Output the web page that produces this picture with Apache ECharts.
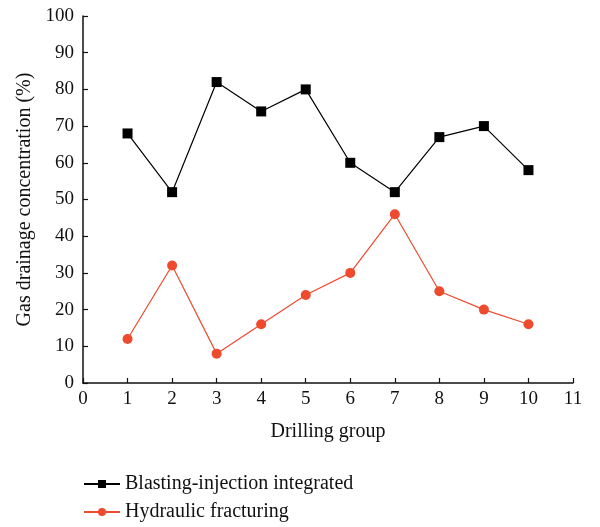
<!DOCTYPE html>
<html>
<head>
<meta charset="utf-8">
<script src="https://cdn.jsdelivr.net/npm/echarts@6/dist/echarts.min.js"></script>
<style>
  html, body { margin: 0; padding: 0; background: #fff; }
  #chart { width: 600px; height: 527px; }
</style>
</head>
<body>
<div id="chart"></div>
<script>
// Drilling groups and gas drainage concentration (%) for each method
const groups = [1, 2, 3, 4, 5, 6, 7, 8, 9, 10];
const blastingInjection = [68, 52, 82, 74, 80, 60, 52, 67, 70, 58];
const hydraulicFracturing = [12, 32, 8, 16, 24, 30, 46, 25, 20, 16];
const seriesNames = ['Blasting-injection integrated', 'Hydraulic fracturing'];

const FONT = '"Liberation Serif", "DejaVu Serif", serif';
const RED = '#ee4a2e';

// one legend row per series, stacked under the plot
const legendRow = (name, top) => ({
  orient: 'vertical',
  left: 78,
  top: top,
  itemWidth: 36,
  itemHeight: 10,
  itemGap: 6,
  textStyle: { fontFamily: FONT, fontSize: 20, color: '#111' },
  data: [{ name: name }]
});

const chart = echarts.init(document.getElementById('chart'));
chart.setOption({
  animation: false,
  textStyle: { fontFamily: FONT },
  grid: { left: 83, right: 27, top: 16, bottom: 144 },
  legend: [legendRow(seriesNames[0], 469), legendRow(seriesNames[1], 497)],
  xAxis: {
    type: 'value',
    min: 0, max: 11, interval: 1,
    name: 'Drilling group',
    nameLocation: 'middle',
    nameGap: 39,
    nameTextStyle: { fontFamily: FONT, fontSize: 20, color: '#111' },
    axisLine: { show: true, lineStyle: { color: '#111', width: 1.5 } },
    axisTick: { show: true, inside: true, length: 5, lineStyle: { color: '#111', width: 1.2 } },
    axisLabel: { fontFamily: FONT, fontSize: 19, color: '#111', margin: 7 },
    splitLine: { show: false }
  },
  yAxis: {
    type: 'value',
    min: 0, max: 100, interval: 10,
    name: 'Gas drainage concentration (%)',
    nameLocation: 'middle',
    nameGap: 48,
    nameTextStyle: { fontFamily: FONT, fontSize: 20, color: '#111' },
    axisLine: { show: true, lineStyle: { color: '#111', width: 1.5 } },
    axisTick: { show: true, inside: true, length: 5, lineStyle: { color: '#111', width: 1.2 } },
    axisLabel: { fontFamily: FONT, fontSize: 19, color: '#111', margin: 9 },
    splitLine: { show: false }
  },
  series: [
    {
      name: seriesNames[0],
      type: 'line',
      data: groups.map((g, i) => [g, blastingInjection[i]]),
      symbol: 'rect',
      symbolSize: 10,
      itemStyle: { color: '#000' },
      lineStyle: { color: '#000', width: 1.2 }
    },
    {
      name: seriesNames[1],
      type: 'line',
      data: groups.map((g, i) => [g, hydraulicFracturing[i]]),
      symbol: 'circle',
      symbolSize: 10,
      itemStyle: { color: RED },
      lineStyle: { color: RED, width: 1.2 }
    }
  ]
});
</script>
</body>
</html>
